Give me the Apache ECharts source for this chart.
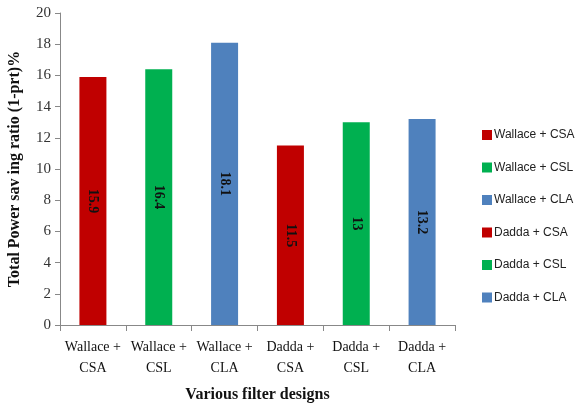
<!DOCTYPE html>
<html><head><meta charset="utf-8">
<script src="https://cdn.jsdelivr.net/npm/echarts@6/dist/echarts.min.js"></script>
<style>html,body{margin:0;padding:0;background:#fff}#c{width:584px;height:409px}</style>
</head><body><div id="c"></div>
<script>
const categories = ['Wallace +\nCSA','Wallace +\nCSL','Wallace +\nCLA','Dadda +\nCSA','Dadda +\nCSL','Dadda +\nCLA'];
const seriesNames = ['Wallace + CSA','Wallace + CSL','Wallace + CLA','Dadda + CSA','Dadda + CSL','Dadda + CLA'];
const values = [15.9, 16.4, 18.1, 11.5, 13, 13.2];
const colors = ['#C00000','#00B050','#4F81BD','#C00000','#00B050','#4F81BD'];
const yTicks = {min:0, max:20, interval:2};

const series = seriesNames.map((name, i) => ({
  name: name,
  type: 'bar',
  stack: 'all',
  barWidth: 27,
  itemStyle: {color: colors[i]},
  label: {show: true, position: 'inside', rotate: -90, color: '#111',
    fontFamily: 'Liberation Serif', fontWeight: 'bold', fontSize: 14,
    formatter: p => String(p.value)},
  data: values.map((v, j) => j === i ? v : '-')
}));

const chart = echarts.init(document.getElementById('c'));
chart.setOption({
  animation: false,
  color: colors,
  grid: {left: 60, right: 129, top: 13, bottom: 84, containLabel: false, outerBoundsMode: 'none'},
  legend: {
    orient: 'vertical', left: 477, top: 124, itemGap: 20.5,
    itemWidth: 10, itemHeight: 10, icon: 'rect',
    textStyle: {fontFamily: 'Liberation Sans', fontSize: 12, color: '#222', padding: [0,0,0,-3]},
    data: seriesNames
  },
  xAxis: {
    type: 'category', data: categories,
    name: 'Various filter designs', nameLocation: 'middle', nameGap: 62,
    nameTextStyle: {fontFamily: 'Liberation Serif', fontWeight: 'bold', fontSize: 16, color: '#111'},
    axisLine: {lineStyle: {color: '#888'}},
    axisTick: {show: true, length: 6, alignWithLabel: false, lineStyle: {color: '#888'}},
    axisLabel: {fontFamily: 'Liberation Serif', fontSize: 14, color: '#111', lineHeight: 21, margin: 12, interval: 0}
  },
  yAxis: {
    type: 'value', min: yTicks.min, max: yTicks.max, interval: yTicks.interval,
    name: 'Total Power sav ing ratio (1-prt)%', nameLocation: 'middle', nameGap: 37,
    nameTextStyle: {fontFamily: 'Liberation Serif', fontWeight: 'bold', fontSize: 16, color: '#111'},
    axisLine: {show: true, lineStyle: {color: '#888'}},
    axisTick: {show: true, length: 5, lineStyle: {color: '#888'}},
    splitLine: {show: false},
    axisLabel: {fontFamily: 'Liberation Serif', fontSize: 15, color: '#333', margin: 9}
  },
  series: series
});
</script></body></html>
